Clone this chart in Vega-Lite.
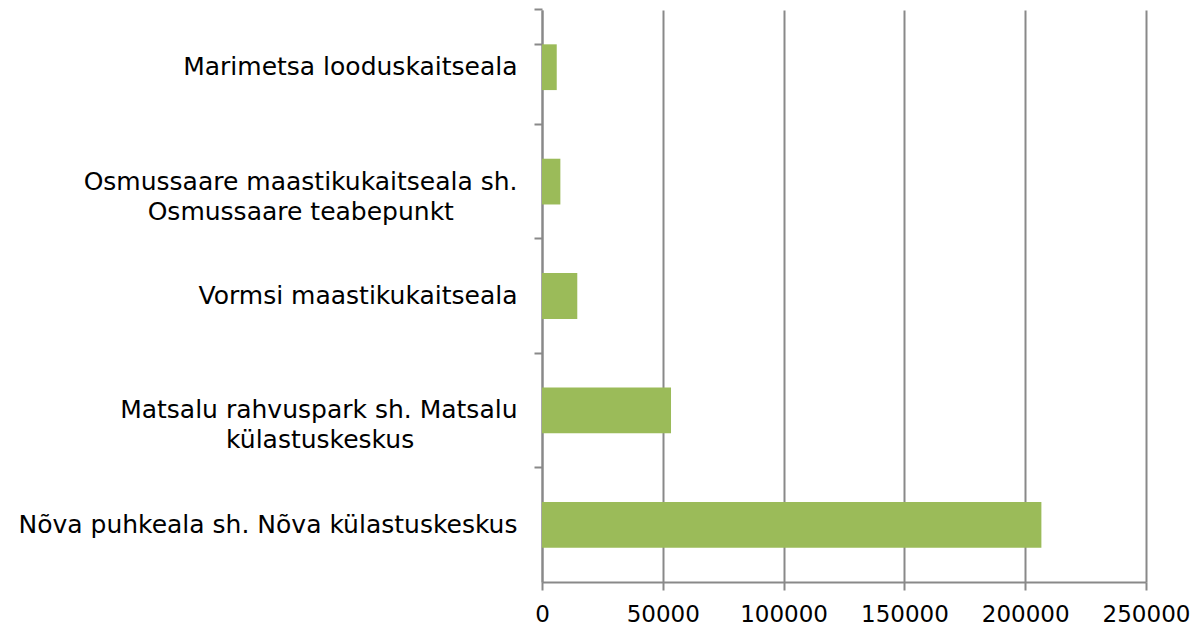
{
  "$schema": "https://vega.github.io/schema/vega-lite/v6.json",
  "width": 604,
  "height": 572,
  "autosize": "none",
  "padding": {"left": 542, "top": 10, "right": 53, "bottom": 50},
  "background": "white",
  "config": {"view": {"stroke": null}},
  "data": {
    "values": [
      {"name": "Marimetsa looduskaitseala", "value": 6100},
      {"name": "Osmussaare maastikukaitseala sh.|Osmussaare teabepunkt\u00a0\u00a0\u00a0\u00a0\u00a0\u00a0\u00a0\u00a0\u200b", "value": 7600},
      {"name": "Vormsi maastikukaitseala", "value": 14600},
      {"name": "Matsalu rahvuspark sh. Matsalu|külastuskeskus\u00a0\u00a0\u00a0\u00a0\u00a0\u00a0\u00a0\u00a0\u00a0\u00a0\u00a0\u00a0\u00a0\u200b", "value": 53400},
      {"name": "Nõva puhkeala sh. Nõva külastuskeskus", "value": 206700}
    ]
  },
  "mark": {"type": "bar", "color": "#9bbb59"},
  "encoding": {
    "y": {
      "field": "name",
      "type": "nominal",
      "sort": null,
      "scale": {"paddingInner": 0.6, "paddingOuter": 0.3},
      "axis": {
        "title": null,
        "labelExpr": "split(datum.label, '|')",
        "labelFont": "DejaVu Sans",
        "labelFontSize": 25,
        "labelColor": "#000000",
        "labelLineHeight": 30,
        "labelPadding": 17,
        "labelLimit": 700,
        "encode": {"labels": {"update": {"dy": {"signal": "indexof(datum.label, '|') >= 0 ? -14 : 0"}}}},
        "tickSize": 8,
        "tickColor": "#898989",
        "tickWidth": 2,
        "domainColor": "#898989",
        "domainWidth": 2,
        "bandPosition": -0.75,
        "tickExtra": true,
        "grid": false
      }
    },
    "x": {
      "field": "value",
      "type": "quantitative",
      "scale": {"domain": [0, 250000], "nice": false},
      "axis": {
        "title": null,
        "values": [0, 50000, 100000, 150000, 200000, 250000],
        "format": "d",
        "labelFont": "DejaVu Sans",
        "labelFontSize": 23,
        "labelColor": "#000000",
        "labelPadding": 13,
        "labelFlush": false,
        "tickSize": 8,
        "tickColor": "#898989",
        "tickWidth": 2,
        "domainColor": "#898989",
        "domainWidth": 2,
        "grid": true,
        "gridColor": "#898989",
        "gridWidth": 2
      }
    }
  }
}
